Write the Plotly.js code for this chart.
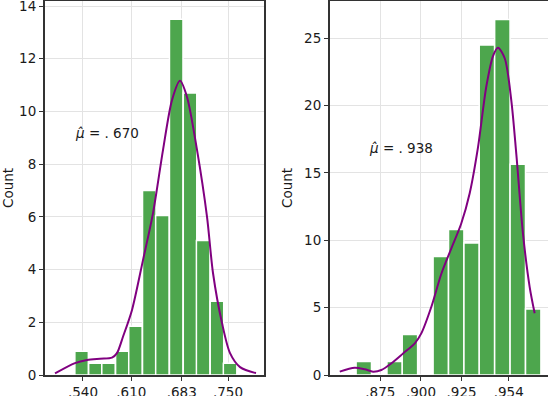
<!DOCTYPE html>
<html>
<head>
<meta charset="utf-8">
<script src="https://cdn.plot.ly/plotly-3.0.1.min.js"></script>
<style>
  html, body { margin: 0; padding: 0; background: #fff; }
  #chart { width: 548px; height: 396px; }
</style>
</head>
<body>
<div id="chart"></div>
<script>
// left panel: histogram bins (centres) and counts
const leftBins = [0.538, 0.558, 0.577, 0.597, 0.616, 0.636, 0.655, 0.675, 0.695, 0.714, 0.734, 0.753];
const leftCounts = [0.9, 0.45, 0.45, 0.9, 1.85, 7.0, 6.05, 13.5, 10.7, 5.1, 2.8, 0.45];
const leftKdeX = [0.4995, 0.5284, 0.5458, 0.5646, 0.5820, 0.5892, 0.5979, 0.6110, 0.6269, 0.6414,
                  0.6559, 0.6689, 0.6805, 0.6906, 0.7051, 0.7196, 0.7283, 0.7413, 0.7529, 0.7674, 0.7905];
const leftKdeY = [0.06, 0.45, 0.57, 0.62, 0.66, 0.83, 1.45, 2.47, 4.36, 6.14,
                  8.54, 10.43, 11.16, 10.55, 8.54, 6.0, 3.86, 1.97, 0.83, 0.3, 0.07];
const leftTicks = [0.540, 0.610, 0.683, 0.750];
const leftTickText = [".540", ".610", ".683", ".750"];

// right panel
const rightBins = [0.8648, 0.8743, 0.8838, 0.8932, 0.9027, 0.9122, 0.9217, 0.9312, 0.9406, 0.9501, 0.9596, 0.9691];
const rightCounts = [1, 0, 1, 3, 0, 8.8, 10.8, 9.8, 24.5, 26.4, 15.65, 4.9];
const rightKdeX = [0.8500, 0.8592, 0.8654, 0.8705, 0.8756, 0.8818, 0.8890, 0.8962, 0.9002, 0.9064,
                   0.9125, 0.9187, 0.9248, 0.9300, 0.9351, 0.9402, 0.9444, 0.9474, 0.9516, 0.9556,
                   0.9587, 0.9628, 0.9669, 0.9700];
const rightKdeY = [0.25, 0.54, 0.42, 0.25, 0.37, 0.87, 1.6, 2.35, 3.09, 5.07,
                   7.5, 9.4, 11.25, 13.5, 16.9, 21.4, 23.7, 24.3, 23.5, 20.4,
                   16.4, 10.5, 6.55, 4.58];
const rightTicks = [0.875, 0.900, 0.925, 0.954];
const rightTickText = [".875", ".900", ".925", ".954"];

const leftMean = ".670";
const rightMean = ".938";

const barColor = "rgb(77,166,77)";
const kdeColor = "#800080";
const font = { family: "DejaVu Sans", size: 13.5, color: "#1a1a1a" };

const data = [
    {
        type: "bar",
        x: leftBins,
        y: leftCounts,
        width: 0.01955,
        marker: { color: barColor, line: { color: "#fff", width: 1.5 } },
        xaxis: "x",
        yaxis: "y",
        hoverinfo: "skip",
    },
    {
        type: "scatter",
        mode: "lines",
        x: leftKdeX,
        y: leftKdeY,
        line: { color: kdeColor, width: 2, shape: "spline", smoothing: 0.8 },
        xaxis: "x",
        yaxis: "y",
    },
    {
        type: "bar",
        x: rightBins,
        y: rightCounts,
        width: 0.00948,
        marker: { color: barColor, line: { color: "#fff", width: 1.5 } },
        xaxis: "x2",
        yaxis: "y2",
        hoverinfo: "skip",
    },
    {
        type: "scatter",
        mode: "lines",
        x: rightKdeX,
        y: rightKdeY,
        line: { color: kdeColor, width: 2, shape: "spline", smoothing: 0.8 },
        xaxis: "x2",
        yaxis: "y2",
    },
];

const axisCommon = {
    showgrid: true,
    gridcolor: "#e3e3e3",
    gridwidth: 1,
    zeroline: false,
    showline: true,
    linecolor: "#333",
    linewidth: 2,
    ticks: "outside",
    ticklen: 4,
    tickwidth: 1,
    tickcolor: "#333",
    tickfont: font,
    ticklabeloverflow: "allow",
};

const layout = {
    width: 548,
    height: 396,
    margin: { l: 0, r: 0, t: 1, b: 21 },
    paper_bgcolor: "#fff",
    plot_bgcolor: "#fff",
    showlegend: false,
    bargap: 0,
    font: font,
    xaxis: {
        ...axisCommon,
        domain: [45 / 548, 264 / 548],
        range: [0.485, 0.8021],
        tickvals: leftTicks,
        ticktext: leftTickText,
        mirror: true,
        anchor: "y",
    },
    yaxis: {
        ...axisCommon,
        range: [0, 14.19],
        dtick: 2,
        mirror: true,
        anchor: "x",
        title: { text: "Count", font: font },
    },
    xaxis2: {
        ...axisCommon,
        domain: [330 / 548, 1],
        range: [0.844, 0.9782],
        tickvals: rightTicks,
        ticktext: rightTickText,
        mirror: true,
        anchor: "y2",
    },
    yaxis2: {
        ...axisCommon,
        range: [0, 27.77],
        dtick: 5,
        anchor: "x2",
        title: { text: "Count", font: font },
    },
    annotations: [
        {
            xref: "x", yref: "y", x: 0.5748, y: 9.18,
            text: "<i>μ̂</i> = . " + leftMean.slice(1),
            showarrow: false, font: font,
        },
        {
            xref: "x2", yref: "y2", x: 0.8877, y: 16.85,
            text: "<i>μ̂</i> = . " + rightMean.slice(1),
            showarrow: false, font: font,
        },
    ],
};

Plotly.newPlot("chart", data, layout, { displayModeBar: false, staticPlot: true });
</script>
</body>
</html>
